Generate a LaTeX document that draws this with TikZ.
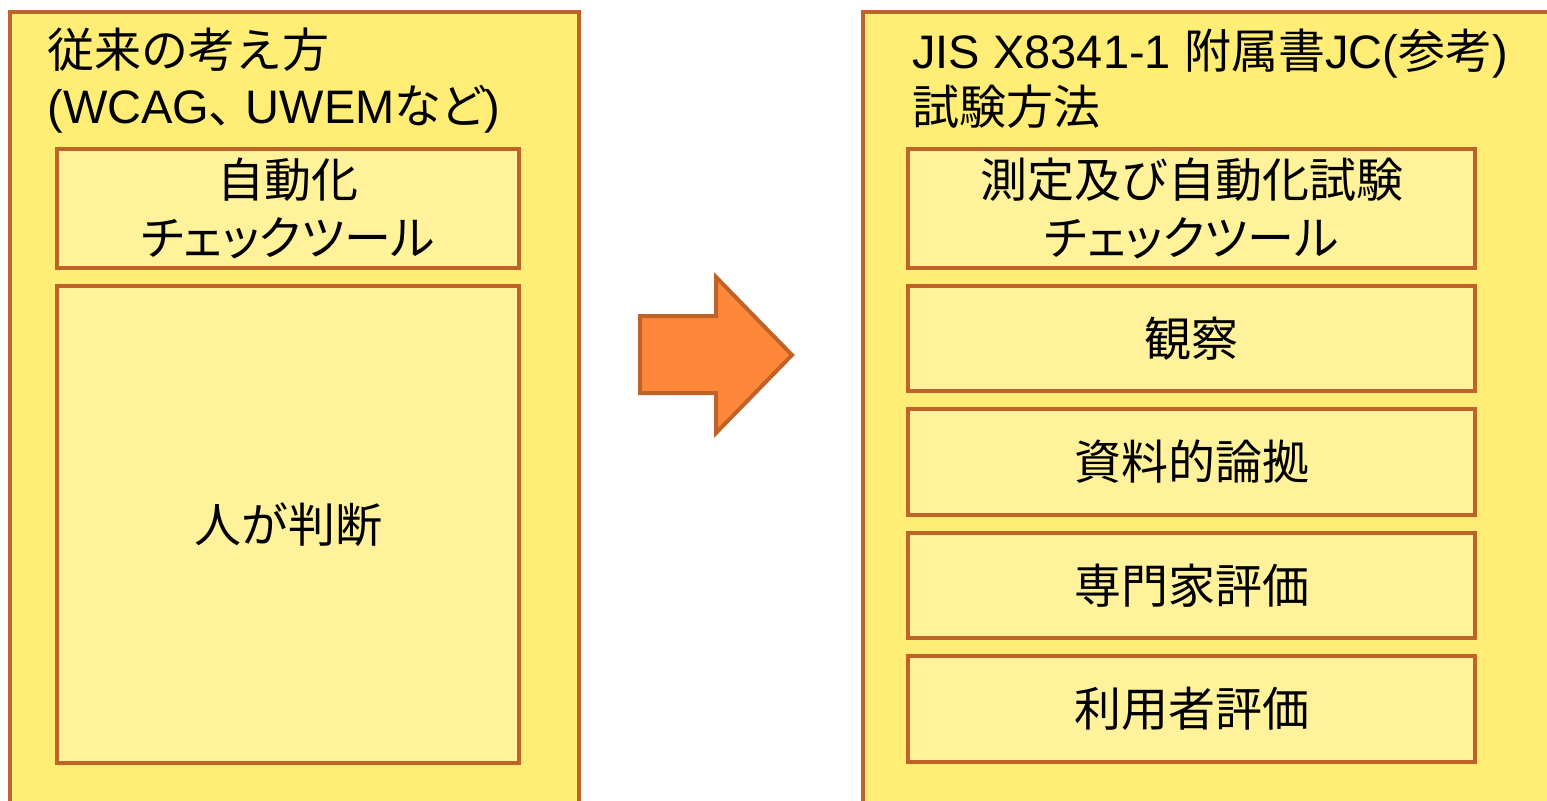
\documentclass[tikz,border=0pt]{standalone}
\usepackage{fontspec}
\setmainfont{Liberation Sans}
\newfontfamily\jp{Noto Sans CJK JP}
\newfontfamily\jpp[RawFeature=+palt]{Noto Sans CJK JP}
\definecolor{bordc}{RGB}{192,99,40}
\definecolor{outfill}{RGB}{255,237,117}
\definecolor{infill}{RGB}{255,242,155}
\definecolor{arrfill}{RGB}{253,136,57}
\begin{document}
\begin{tikzpicture}[x=0.5pt,y=-0.5pt,
  outerbox/.style={draw=bordc,fill=outfill,line width=2pt},
  inbox/.style={draw=bordc,fill=infill,line width=2pt,inner sep=0pt,align=center,
    font=\fontsize{23.5}{29}\selectfont\jp},
  titletext/.style={anchor=base west,inner sep=0pt,align=left,font=\fontsize{23.5}{28}\selectfont},
  bigarrow/.style={draw=bordc,fill=arrfill,line width=2pt,line join=miter}]
\useasboundingbox (0,0) rectangle (1547,800);
\clip (0,0) rectangle (1547,800);
% outer boxes
\draw[outerbox] (10,12) rectangle (579,830);
\draw[outerbox] (863,12) rectangle (1570,830);
% titles (anchored at the baseline of the last line)
\node[titletext] (lt) at (47,123) {{\jp 従来の考え方}\\(WCAG{\jpp 、} UWEM{\jpp など})};
\node[titletext] (rt) at (912,124) {JIS X8341-1 {\jp 附属書}JC({\jp 参考})\\{\jp 試験方法}};
% left inner boxes
\node[inbox,minimum width=231pt,minimum height=59.5pt] (l1) at (288,208.5) {自動化\\{\jpp チェックツール}};
\node[inbox,minimum width=231pt,minimum height=238.5pt] (l2) at (288,524.5) {人が判断};
% right inner boxes
\node[inbox,minimum width=283.5pt,minimum height=59.5pt] (r1) at (1191.5,208.5) {測定及び自動化試験\\{\jpp チェックツール}};
\node[inbox,minimum width=283.5pt,minimum height=52.5pt] (r2) at (1191.5,338.5) {観察};
\node[inbox,minimum width=283.5pt,minimum height=53pt] (r3) at (1191.5,462) {資料的論拠};
\node[inbox,minimum width=283.5pt,minimum height=52.5pt] (r4) at (1191.5,585.5) {専門家評価};
\node[inbox,minimum width=283.5pt,minimum height=53pt] (r5) at (1191.5,709) {利用者評価};
% arrow
\draw[bigarrow] (640,316) -- (716,316) -- (716,277) -- (792,355) -- (716,433) -- (716,393) -- (640,393) -- cycle;
\end{tikzpicture}
\end{document}
